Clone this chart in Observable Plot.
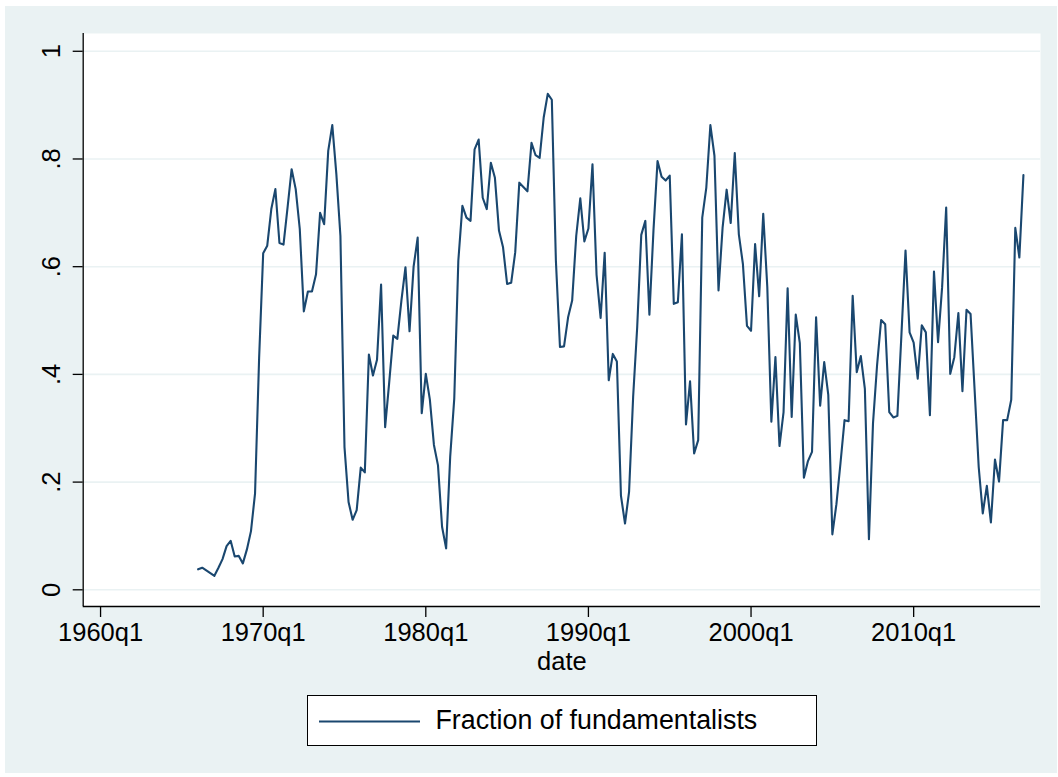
<!DOCTYPE html>
<html>
<head>
<meta charset="utf-8">
<script src="https://cdn.jsdelivr.net/npm/d3@7"></script>
<script src="https://cdn.jsdelivr.net/npm/@observablehq/plot@0.6"></script>
<style>
  html, body { margin: 0; padding: 0; background: #ffffff; }
  #wrap {
    position: absolute; left: 5px; top: 6px; width: 1052px; height: 767px;
    background: #EAF2F3; font-family: "Liberation Sans", Arial, sans-serif;
  }
  #legend {
    position: absolute; left: 301.5px; top: 689px; width: 510px; height: 51px;
    box-sizing: border-box; border: 1.3px solid #000; background: #fff;
  }
  #legend svg { position: absolute; left: 10px; top: 0; }
  #legend span {
    position: absolute; left: 128px; top: 8.5px; font-size: 26.8px; color: #000;
    white-space: nowrap; line-height: 30px;
  }
</style>
</head>
<body>
<div id="wrap"></div>
<script>
// Fraction of fundamentalists, quarterly, starting 1966q1
const firstQuarter = "1966q1";
const frac1960s = [0.038, 0.041, 0.036, 0.031, 0.026, 0.041, 0.057, 0.081,
  0.091, 0.062, 0.063, 0.049, 0.075, 0.109, 0.179, 0.430];
const frac1970s = [0.625, 0.639, 0.707, 0.744, 0.644, 0.641, 0.710, 0.781,
  0.744, 0.670, 0.517, 0.554, 0.554, 0.586, 0.700, 0.679,
  0.815, 0.863, 0.772, 0.657, 0.265, 0.163, 0.130, 0.148,
  0.227, 0.218, 0.437, 0.398, 0.427, 0.567, 0.302, 0.385,
  0.472, 0.466, 0.537, 0.599, 0.480, 0.600, 0.654, 0.328];
const frac1980s = [0.401, 0.353, 0.269, 0.231, 0.117, 0.077, 0.247, 0.355,
  0.611, 0.713, 0.691, 0.685, 0.818, 0.836, 0.728, 0.707,
  0.793, 0.765, 0.667, 0.636, 0.568, 0.570, 0.627, 0.756,
  0.748, 0.740, 0.830, 0.807, 0.802, 0.877, 0.921, 0.910,
  0.611, 0.451, 0.452, 0.506, 0.537, 0.657, 0.727, 0.647];
const frac1990s = [0.671, 0.790, 0.585, 0.505, 0.626, 0.389, 0.438, 0.424,
  0.175, 0.123, 0.182, 0.358, 0.488, 0.659, 0.685, 0.511,
  0.667, 0.796, 0.767, 0.760, 0.769, 0.531, 0.534, 0.660,
  0.307, 0.387, 0.253, 0.278, 0.691, 0.747, 0.863, 0.806,
  0.556, 0.672, 0.743, 0.681, 0.811, 0.660, 0.605, 0.490];
const frac2000s = [0.481, 0.642, 0.545, 0.698, 0.562, 0.312, 0.432, 0.267,
  0.330, 0.560, 0.321, 0.511, 0.458, 0.208, 0.239, 0.256,
  0.506, 0.342, 0.423, 0.362, 0.103, 0.159, 0.235, 0.315,
  0.313, 0.546, 0.404, 0.434, 0.373, 0.094, 0.309, 0.417,
  0.501, 0.493, 0.330, 0.320, 0.323, 0.475, 0.630, 0.478];
const frac2010s = [0.459, 0.392, 0.491, 0.478, 0.324, 0.591, 0.460, 0.562,
  0.710, 0.401, 0.432, 0.514, 0.369, 0.520, 0.512, 0.370,
  0.228, 0.142, 0.193, 0.125, 0.242, 0.201, 0.315, 0.315,
  0.353, 0.672, 0.617, 0.770];

const xTickLabels = ["1960q1", "1970q1", "1980q1", "1990q1", "2000q1", "2010q1"];
const yTicks = [0, 0.2, 0.4, 0.6, 0.8, 1];
const seriesLabel = "Fraction of fundamentalists";
const xTitle = "date";

// quarter index: 0 = 1960q1 (Stata %tq convention)
const parseQ = s => { const [y, q] = s.split("q").map(Number); return (y - 1960) * 4 + (q - 1); };
const values = [...frac1960s, ...frac1970s, ...frac1980s, ...frac1990s, ...frac2000s, ...frac2010s];
const t0 = parseQ(firstQuarter);
const data = values.map((v, i) => ({t: t0 + i, v}));
const xTicks = xTickLabels.map(parseQ);
const fmtQ = t => `${1960 + Math.floor(t / 4)}q${(t % 4) + 1}`;
const fmtY = d => d === 0 ? "0" : d === 1 ? "1" : String(d).replace(/^0/, "");

const xDomain = [-4.27, 231.2];
const yDomain = [-0.031, 1.033];
const navy = "#1a476f";
const gridColor = "#EAF2F3";

const chart = Plot.plot({
  width: 1052,
  height: 680,
  marginLeft: 77.7,
  marginRight: 17,
  marginTop: 27,
  marginBottom: 80,
  style: {background: "transparent", fontFamily: "'Liberation Sans', Arial, sans-serif", fontSize: "25.5px", color: "#000", overflow: "visible"},
  x: {domain: xDomain},
  y: {domain: yDomain},
  marks: [
    Plot.frame({fill: "#ffffff", stroke: null}),
    Plot.ruleY(yTicks, {stroke: gridColor, strokeWidth: 1.6}),
    Plot.ruleX([xDomain[0]], {stroke: "#000", strokeWidth: 1.3}),
    Plot.ruleY([yDomain[0]], {stroke: "#000", strokeWidth: 1.3}),
    Plot.axisX({ticks: xTicks, tickFormat: fmtQ, tickSize: 11, tickPadding: 5.7, strokeWidth: 1.3, label: null, fill: "#000"}),
    Plot.axisY({ticks: yTicks, tickFormat: fmtY, tickSize: 10, tickRotate: -90, tickPadding: 12.7, strokeWidth: 1.3, label: null, fill: "#000"}),
    Plot.text([xTitle], {frameAnchor: "bottom", text: d => d, dy: 63, lineAnchor: "bottom", fontSize: 25.5, fill: "#000"}),
    Plot.lineY(data, {x: "t", y: "v", stroke: navy, strokeWidth: 2.1, strokeLinejoin: "round"})
  ]
});

const wrap = document.getElementById("wrap");
wrap.appendChild(chart);

const legend = document.createElement("div");
legend.id = "legend";
legend.innerHTML = `<svg width="110" height="49"><line x1="1" x2="102" y1="25.5" y2="25.5" stroke="${navy}" stroke-width="2"/></svg><span>${seriesLabel}</span>`;
wrap.appendChild(legend);
</script>
</body>
</html>
